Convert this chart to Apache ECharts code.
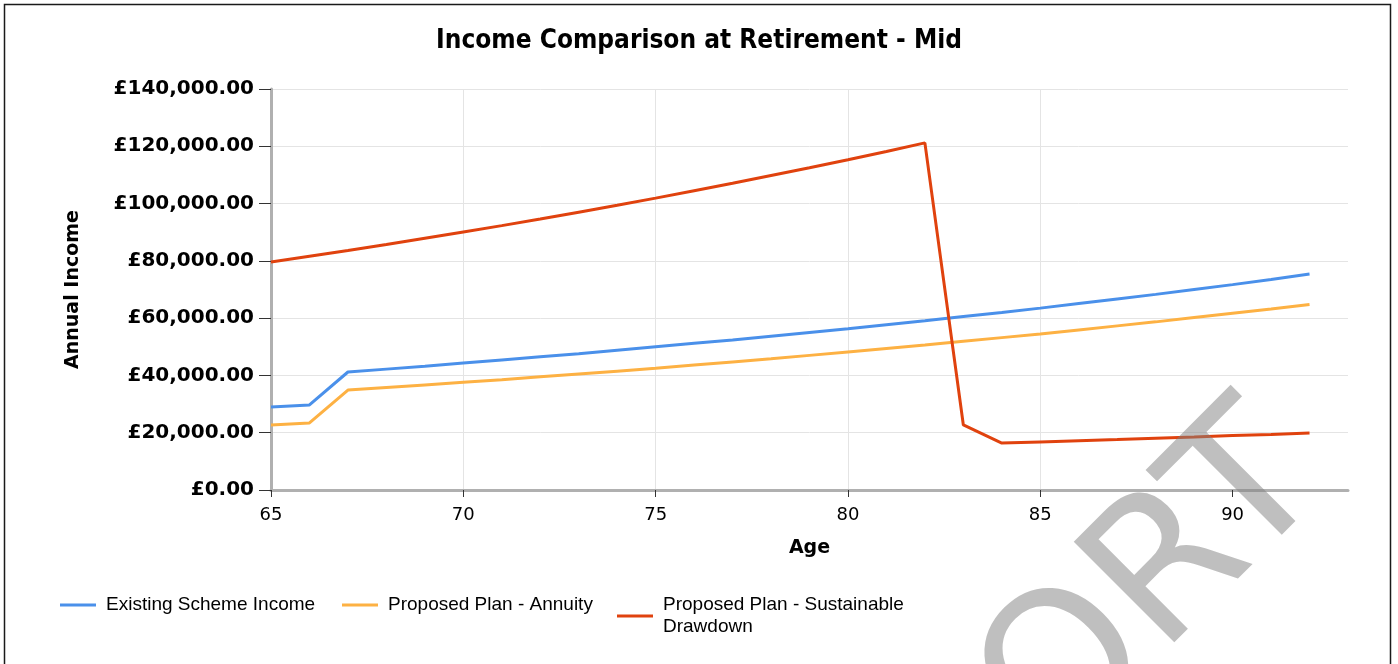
<!DOCTYPE html>
<html>
<head>
<meta charset="utf-8">
<script src="https://cdn.jsdelivr.net/npm/echarts@6/dist/echarts.min.js"></script>
<style>
html,body{margin:0;padding:0;background:#fff;}
#chart{width:1398px;height:664px;}
</style>
</head>
<body>
<div id="chart"></div>
<script>
const ages = [65,66,67,68,69,70,71,72,73,74,75,76,77,78,79,80,81,82,83,84,85,86,87,88,89,90,91,92];
const existingScheme = [29000,29700,41200,42200,43200,44300,45400,46500,47600,48800,50000,51200,52400,53700,55000,56300,57700,59100,60600,62000,63500,65100,66700,68300,70000,71700,73500,75400];
const proposedAnnuity = [22700,23400,34900,35800,36700,37600,38500,39500,40500,41500,42500,43600,44700,45800,47000,48200,49400,50600,51900,53200,54500,55900,57300,58700,60200,61700,63200,64800];
const proposedDrawdown = [79600,81600,83600,85700,87900,90100,92300,94600,97000,99400,101900,104500,107100,109800,112500,115300,118200,121200,22700,16400,16800,17200,17600,18100,18500,19000,19400,19900];
const seriesNames = ['Existing Scheme Income','Proposed Plan - Annuity','Proposed Plan - Sustainable Drawdown'];
const xTickValues = [65,70,75,80,85,90];

function gbp(v){
  const s = Math.round(v).toString().replace(/\B(?=(\d{3})+(?!\d))/g, ',');
  return '£' + s + '.00';
}
function pairs(vals){ return ages.map((a,i)=>[a, vals[i]]); }

const chart = echarts.init(document.getElementById('chart'));
const colors = ['#4a90ea','#fdb143','#e0420e'];
const legendBase = {
  top: 594, orient:'horizontal', itemWidth: 36, itemHeight: 3, padding:0, icon:'rect',
  textStyle:{fontFamily:'Liberation Sans', fontSize:19, color:'#000', lineHeight:22, padding:[0,0,0,5]}
};
chart.setOption({
  animation:false,
  title:{
    text:'Income Comparison at Retirement - Mid', left:'center', top:28, padding:0,
    textStyle:{fontFamily:'DejaVu Sans Condensed', fontWeight:'bold', fontSize:26, color:'#000'}
  },
  legend:[
    Object.assign({}, legendBase, {left:60, data:[seriesNames[0]]}),
    Object.assign({}, legendBase, {left:342, data:[seriesNames[1]]}),
    Object.assign({}, legendBase, {left:617, data:[seriesNames[2]],
      formatter: n => n === seriesNames[2] ? 'Proposed Plan - Sustainable\nDrawdown' : n})
  ],
  grid:{left:271, right:50, top:89, bottom:174, containLabel:false},
  xAxis:{
    type:'value', min:65, max:93, interval:5,
    name:'Age', nameLocation:'middle', nameGap:49,
    nameTextStyle:{fontFamily:'DejaVu Sans', fontWeight:'bold', fontSize:19, color:'#000'},
    axisLine:{show:true, lineStyle:{color:'#b0b0b0', width:3}},
    axisTick:{show:true, length:7, lineStyle:{color:'#333', width:1}, customValues:xTickValues},
    axisLabel:{fontFamily:'DejaVu Sans', fontSize:18, color:'#000', margin:16, customValues:xTickValues},
    splitLine:{show:true, showMaxLine:false, lineStyle:{color:'#e4e4e4', width:1}}
  },
  yAxis:{
    type:'value', min:0, max:140000, interval:20000,
    name:'Annual Income', nameLocation:'middle', nameGap:188, nameRotate:90,
    nameTextStyle:{fontFamily:'DejaVu Sans', fontWeight:'bold', fontSize:19, color:'#000'},
    axisLine:{show:true, lineStyle:{color:'#b0b0b0', width:3}},
    axisTick:{show:true, length:12, lineStyle:{color:'#333', width:1}},
    axisLabel:{fontFamily:'DejaVu Sans', fontWeight:'bold', fontSize:20, color:'#000', margin:17, formatter:gbp},
    splitLine:{show:true, lineStyle:{color:'#e4e4e4', width:1}}
  },
  series:[
    {name:seriesNames[0], type:'line', data:pairs(existingScheme), showSymbol:false, symbol:'none', lineStyle:{width:3, color:colors[0]}, itemStyle:{color:colors[0]}, z:3},
    {name:seriesNames[1], type:'line', data:pairs(proposedAnnuity), showSymbol:false, symbol:'none', lineStyle:{width:3, color:colors[1]}, itemStyle:{color:colors[1]}, z:3},
    {name:seriesNames[2], type:'line', data:pairs(proposedDrawdown), showSymbol:false, symbol:'none', lineStyle:{width:3, color:colors[2]}, itemStyle:{color:colors[2]}, z:3}
  ],
  graphic:[
    {type:'rect', z:100, silent:true, shape:{x:4.5, y:4.5, width:1386, height:720},
      style:{fill:'none', stroke:'#1a1a1a', lineWidth:1.5}},
    {type:'text', z:101, silent:true, x:1295, y:450, rotation:Math.PI/4,
      style:{text:'REPORT', fill:'rgba(128,128,128,0.5)', font:'195px "DejaVu Sans"', align:'right', verticalAlign:'middle'}}
  ]
});
</script>
</body>
</html>
